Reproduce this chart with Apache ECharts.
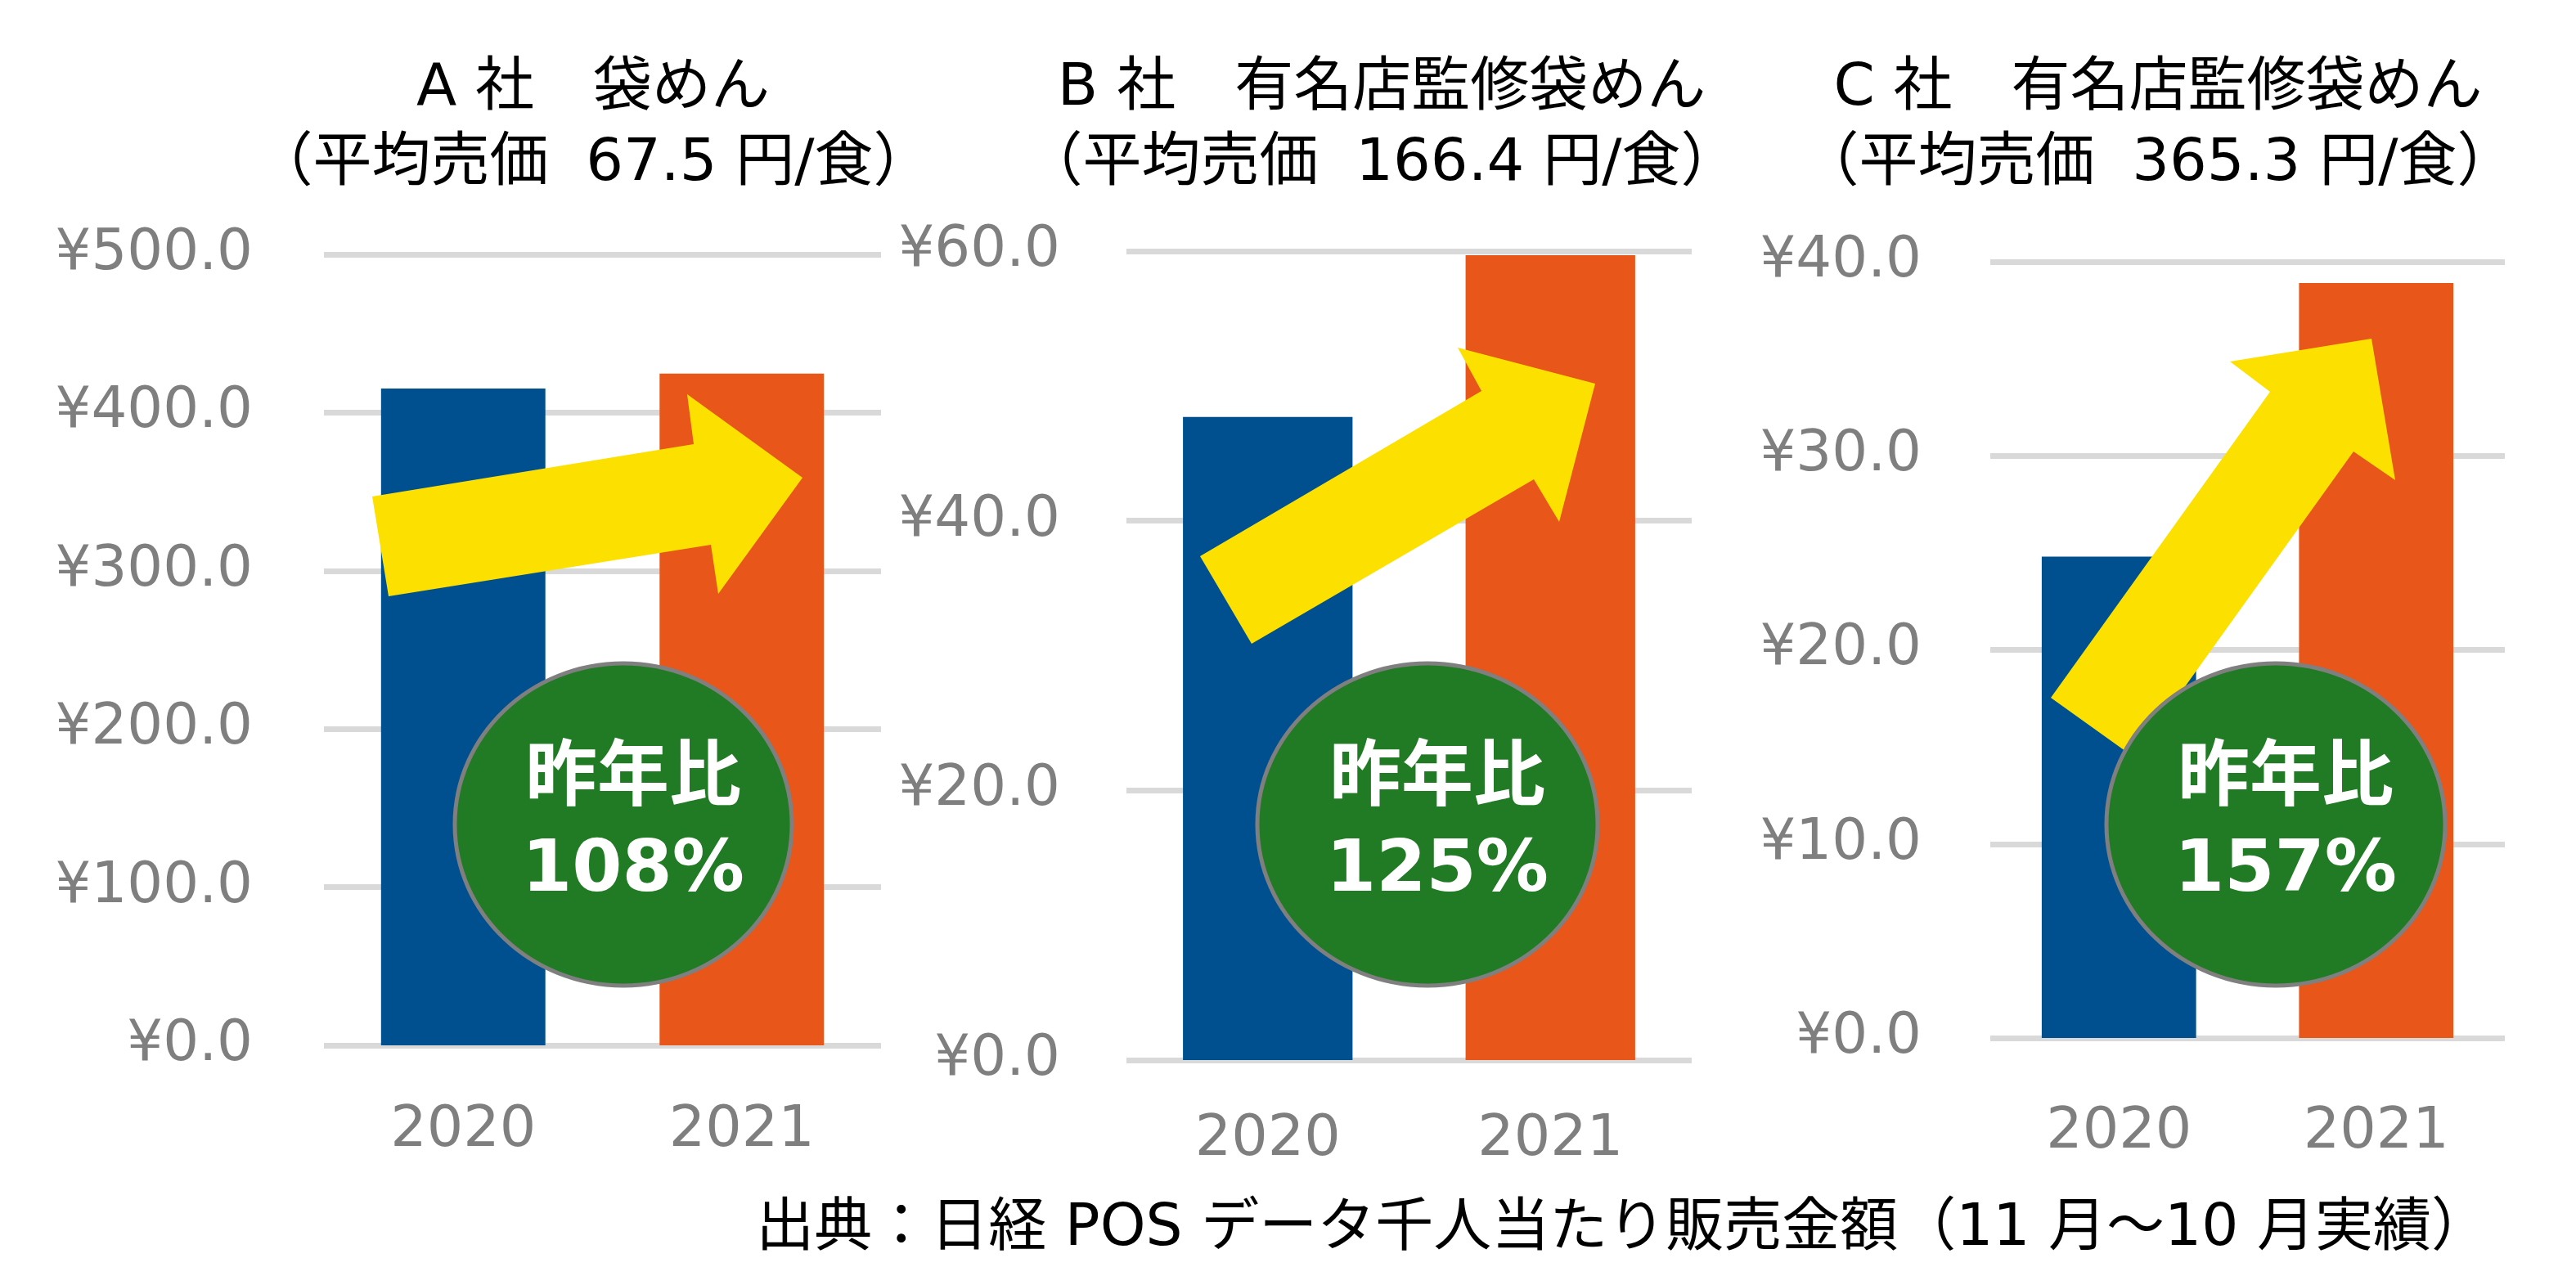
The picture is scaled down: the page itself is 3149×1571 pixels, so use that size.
<!DOCTYPE html>
<html>
<head>
<meta charset="utf-8">
<script src="https://cdn.jsdelivr.net/npm/echarts@6/dist/echarts.min.js"></script>
<style>
html,body{margin:0;padding:0;background:#fff;}
#chart{width:3149px;height:1571px;}
</style>
</head>
<body>
<div id="chart"></div>
<script>
// ---- data ----
const categories = ['2020', '2021'];
const salesA = [415.2, 424.6];
const salesB = [47.7, 59.7];
const salesC = [24.8, 38.9];
const titleLines1 = ['A 社　袋めん', 'B 社　有名店監修袋めん', 'C 社　有名店監修袋めん'];
const titleLines2 = ['（平均売価  67.5 円/食）', '（平均売価  166.4 円/食）', '（平均売価  365.3 円/食）'];
const yoyLabel = '昨年比';
const yoyValues = ['108%', '125%', '157%'];
const yMax = [500, 60, 40];
const yInterval = [100, 20, 10];
const sourceNote = '出典：日経 POS データ千人当たり販売金額（11 月～10 月実績）';

// ---- styles / layout ----
const FONT = '"DejaVu Sans", "Noto Sans CJK JP", sans-serif';
const BLUE = '#00508F';
const ORANGE = '#E8561A';
const YELLOW = '#FCE100';
const GREEN = '#217A24';
const GRID_COLOR = '#D9D9D9';
const LABEL_COLOR = '#7F7F7F';

const grids = [
  {left: 396, right: 2072, top: 311, bottom: 293},
  {left: 1377, right: 1081, top: 307, bottom: 275},
  {left: 2433, right: 87, top: 320, bottom: 302}
];
const yLabelMargin = [87, 81, 84];
const xLabelMargin = [70, 63, 81];
const barWidths = ['59%', '60%', '60%'];
const titleX = [720, 1684, 2633];

// decorative arrows (pixel geometry, annotation only)
const arrowShapes = [
  [[455,607],[848,543],[840,482],[981,584],[878,726],[869,666],[475,729]],
  [[1467,680],[1811,478],[1782,425],[1950,469],[1906,638],[1875,586],[1530,787]],
  [[2507,853],[2775,479],[2726,442],[2899,414],[2928,587],[2877,552],[2609,926]]
];
const circles = [
  {cx: 762, cy: 1008, rx: 206, ry: 197},
  {cx: 1745, cy: 1008, rx: 208, ry: 197},
  {cx: 2782, cy: 1008, rx: 207, ry: 197}
];

const seriesData = [salesA, salesB, salesC];

const chart = echarts.init(document.getElementById('chart'), null, {renderer: 'canvas'});

const option = {
  backgroundColor: '#ffffff',
  animation: false,
  title: titleLines1.map((t, i) => ({
    text: t + '\n' + titleLines2[i],
    left: titleX[i],
    top: 58,
    textAlign: 'center',
    textStyle: {
      fontFamily: FONT,
      fontSize: 72,
      fontWeight: 'normal',
      color: '#000000',
      lineHeight: 92
    }
  })),
  grid: grids.map(g => Object.assign({containLabel: false}, g)),
  xAxis: grids.map((g, i) => ({
    type: 'category',
    gridIndex: i,
    data: categories,
    axisLine: {show: false},
    axisTick: {show: false},
    axisLabel: {
      color: LABEL_COLOR,
      fontFamily: FONT,
      fontSize: 70,
      margin: xLabelMargin[i]
    }
  })),
  yAxis: grids.map((g, i) => ({
    type: 'value',
    gridIndex: i,
    min: 0,
    max: yMax[i],
    interval: yInterval[i],
    axisLine: {show: false},
    axisTick: {show: false},
    splitLine: {lineStyle: {color: GRID_COLOR, width: 7}},
    axisLabel: {
      color: LABEL_COLOR,
      fontFamily: FONT,
      fontSize: 69,
      margin: yLabelMargin[i],
      padding: [0, 0, 22, 0],
      formatter: v => '¥' + v.toFixed(1)
    }
  })),
  series: seriesData.map((d, i) => ({
    type: 'bar',
    xAxisIndex: i,
    yAxisIndex: i,
    data: d,
    barWidth: barWidths[i],
    itemStyle: {
      color: p => (p.dataIndex === 0 ? BLUE : ORANGE)
    }
  })),
  graphic: {
    elements: [
      ...arrowShapes.map(pts => ({
        type: 'polygon',
        z: 100,
        shape: {points: pts},
        style: {fill: YELLOW}
      })),
      ...circles.map(c => ({
        type: 'ellipse',
        z: 110,
        shape: c,
        style: {fill: GREEN, stroke: '#7F7F7F', lineWidth: 5}
      })),
      ...circles.map((c, i) => ({
        type: 'text',
        z: 120,
        x: c.cx + 12,
        y: c.cy + 2,
        style: {
          text: yoyLabel + '\n' + yoyValues[i],
          fill: '#ffffff',
          font: 'bold 88px ' + FONT,
          lineHeight: 112,
          align: 'center',
          verticalAlign: 'middle'
        }
      })),
      {
        type: 'text',
        z: 120,
        x: 3043,
        y: 1504,
        style: {
          text: sourceNote,
          fill: '#000000',
          font: '71px ' + FONT,
          align: 'right',
          verticalAlign: 'middle'
        }
      }
    ]
  }
};

chart.setOption(option);
</script>
</body>
</html>
